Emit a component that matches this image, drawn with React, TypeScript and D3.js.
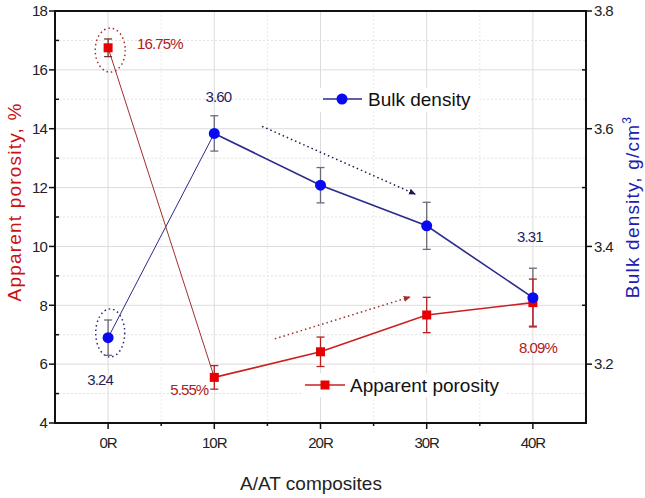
import React from "react";
import * as d3 from "d3";

const categories = ["0R", "10R", "20R", "30R", "40R"];
const porosity = [16.75, 5.55, 6.42, 7.67, 8.09];
const porosityErr = [0.3, 0.4, 0.5, 0.6, 0.8];
const density = [3.245, 3.592, 3.504, 3.435, 3.313];
const densityErr = [0.03, 0.03, 0.03, 0.04, 0.05];
const porosityLabels = ["16.75%", "5.55%", "", "", "8.09%"];
const densityLabels = ["3.24", "3.60", "", "", "3.31"];
const leftTicks = [4, 6, 8, 10, 12, 14, 16, 18];
const leftMinor = [5, 7, 9, 11, 13, 15, 17];
const rightTicks = [3.2, 3.4, 3.6, 3.8];
const rightMinor = [3.3, 3.5, 3.7];

const W = 645, H = 498;
const M = { left: 55, right: 586, top: 11, bottom: 423 };
const FONT = "'Liberation Sans', Arial, sans-serif";
const RED = "#cc1f1f";
const DARKRED = "#a0302c";
const NAVY = "#2b2b8c";
const BLUE = "#0a0af0";

export default function App() {
  const x = d3.scaleLinear().domain([-0.5, 4.5]).range([M.left, M.right]);
  const yL = d3.scaleLinear().domain([4, 18]).range([M.bottom, M.top]);
  const yR = d3.scaleLinear().domain([3.1, 3.8]).range([M.bottom, M.top]);
  const xMinor = [0.5, 1.5, 2.5, 3.5];

  const line = d3.line<[number, number]>().x((d) => d[0]).y((d) => d[1]);
  const pPts: [number, number][] = porosity.map((v, i) => [x(i), yL(v)]);
  const dPts: [number, number][] = density.map((v, i) => [x(i), yR(v)]);

  // annotations in data units
  const blueArrow = { x1: 1.45, y1: 3.604, x2: 2.89, y2: 3.489 };
  const redArrow = { x1: 1.57, y1: 6.86, x2: 2.84, y2: 8.28 };

  return (
    <svg width={W} height={H} style={{ position: "absolute", left: 0, top: 0, background: "#fff" }} fontFamily={FONT}>
      <defs>
        <marker id="ahB" markerWidth="8" markerHeight="8" refX="6" refY="4" orient="auto" markerUnits="userSpaceOnUse">
          <path d="M0,1 L7,4 L0,7 Z" fill="#1a1a50" />
        </marker>
        <marker id="ahR" markerWidth="8" markerHeight="8" refX="6" refY="4" orient="auto" markerUnits="userSpaceOnUse">
          <path d="M0,1 L7,4 L0,7 Z" fill="#a0302c" />
        </marker>
      </defs>
      <rect width={W} height={H} fill="#fff" />
      {/* grid */}
      {leftMinor.map((t) => (
        <line key={"hm" + t} x1={M.left} x2={M.right} y1={yL(t)} y2={yL(t)} stroke="#e2e2e2" strokeDasharray="2,2" />
      ))}
      {leftTicks.map((t) => (
        <line key={"hg" + t} x1={M.left} x2={M.right} y1={yL(t)} y2={yL(t)} stroke="#dcdcdc" />
      ))}
      {xMinor.map((t) => (
        <line key={"vm" + t} x1={x(t)} x2={x(t)} y1={M.top} y2={M.bottom} stroke="#e8e8e8" strokeDasharray="2,2" />
      ))}
      {categories.map((c, i) => (
        <line key={"vg" + c} x1={x(i)} x2={x(i)} y1={M.top} y2={M.bottom} stroke="#dcdcdc" />
      ))}

      {/* frame */}
      <rect x={M.left} y={M.top} width={M.right - M.left} height={M.bottom - M.top} fill="none" stroke="#111" strokeWidth={2} />

      {/* left ticks */}
      {leftTicks.map((t) => (
        <g key={"lt" + t}>
          <line x1={M.left - 6} x2={M.left} y1={yL(t)} y2={yL(t)} stroke="#111" strokeWidth={1.5} />
          <text x={M.left - 8} y={yL(t)} dy="0.35em" textAnchor="end" fontSize={15} letterSpacing={-0.8} fill="#222">{t}</text>
        </g>
      ))}
      {leftMinor.map((t) => (
        <line key={"lm" + t} x1={M.left} x2={M.left + 4} y1={yL(t)} y2={yL(t)} stroke="#111" strokeWidth={1.5} />
      ))}
      {/* right ticks */}
      {rightTicks.map((t) => (
        <g key={"rt" + t}>
          <line x1={M.right} x2={M.right + 6} y1={yR(t)} y2={yR(t)} stroke="#111" strokeWidth={1.5} />
          <text x={M.right + 8} y={yR(t)} dy="0.35em" textAnchor="start" fontSize={15} letterSpacing={-0.6} fill="#222">{t.toFixed(1)}</text>
        </g>
      ))}
      {rightMinor.map((t) => (
        <line key={"rm" + t} x1={M.right - 4} x2={M.right} y1={yR(t)} y2={yR(t)} stroke="#111" strokeWidth={1.5} />
      ))}
      {/* x ticks */}
      {categories.map((c, i) => (
        <g key={"xt" + c}>
          <line x1={x(i)} x2={x(i)} y1={M.bottom} y2={M.bottom + 6} stroke="#111" strokeWidth={1.5} />
          <text x={x(i)} y={M.bottom + 20} dy="0.35em" textAnchor="middle" fontSize={15} letterSpacing={-1} fill="#222">{c}</text>
        </g>
      ))}
      {xMinor.map((t) => (
        <line key={"xm" + t} x1={x(t)} x2={x(t)} y1={M.bottom} y2={M.bottom + 3} stroke="#111" strokeWidth={1.5} />
      ))}

      {/* axis titles */}
      <text x={311} y={483} dy="0.35em" textAnchor="middle" fontSize={19} fill="#222">A/AT composites</text>
      <text transform={`translate(14, 202) rotate(-90)`} textAnchor="middle" dy="0.35em" fontSize={19} letterSpacing={1.2} fill="#cc1111">Apparent porosity, %</text>
      <text transform={`translate(632, 207) rotate(-90)`} textAnchor="middle" dy="0.35em" fontSize={19} letterSpacing={1.2} fill="#2020b0">
        Bulk density, g/cm<tspan dy="-8" fontSize={12}>3</tspan>
      </text>

      {/* annotations: ellipses */}
      <ellipse cx={x(0.02)} cy={yL(16.67)} rx={15} ry={22} fill="none" stroke="#a0302c" strokeWidth={1.5} strokeDasharray="1.5,3" />
      <ellipse cx={x(0.02)} cy={yL(7.06)} rx={14.5} ry={24} fill="none" stroke="#2b2b8c" strokeWidth={1.5} strokeDasharray="1.5,3" />

      {/* arrows */}
      <line x1={x(blueArrow.x1)} y1={yR(blueArrow.y1)} x2={x(blueArrow.x2)} y2={yR(blueArrow.y2)} stroke="#1a1a50" strokeWidth={1.5} strokeDasharray="1.5,3" markerEnd="url(#ahB)" />
      <line x1={x(redArrow.x1)} y1={yL(redArrow.y1)} x2={x(redArrow.x2)} y2={yL(redArrow.y2)} stroke="#a0302c" strokeWidth={1.5} strokeDasharray="1.5,3" markerEnd="url(#ahR)" />

      {/* density series */}
      <path d={line(dPts.slice(0, 2)) || ""} fill="none" stroke={NAVY} strokeWidth={1} />
      <path d={line(dPts.slice(1)) || ""} fill="none" stroke={NAVY} strokeWidth={1.6} />
      {density.map((v, i) => (
        <g key={"de" + i} stroke="#6a6a7a" strokeWidth={1.3}>
          <line x1={x(i)} x2={x(i)} y1={yR(v - densityErr[i])} y2={yR(v + densityErr[i])} />
          <line x1={x(i) - 4} x2={x(i) + 4} y1={yR(v + densityErr[i])} y2={yR(v + densityErr[i])} />
          <line x1={x(i) - 4} x2={x(i) + 4} y1={yR(v - densityErr[i])} y2={yR(v - densityErr[i])} />
        </g>
      ))}

      {/* porosity series */}
      <path d={line(pPts.slice(0, 2)) || ""} fill="none" stroke={DARKRED} strokeWidth={1} />
      <path d={line(pPts.slice(1)) || ""} fill="none" stroke={RED} strokeWidth={1.6} />
      {porosity.map((v, i) => (
        <g key={"pe" + i} stroke={i === 0 ? "#7a3030" : "#b82020"} strokeWidth={1.3}>
          <line x1={x(i)} x2={x(i)} y1={yL(v - porosityErr[i])} y2={yL(v + porosityErr[i])} />
          <line x1={x(i) - 4} x2={x(i) + 4} y1={yL(v + porosityErr[i])} y2={yL(v + porosityErr[i])} />
          <line x1={x(i) - 4} x2={x(i) + 4} y1={yL(v - porosityErr[i])} y2={yL(v - porosityErr[i])} />
        </g>
      ))}
      {porosity.map((v, i) => (
        <rect key={"pm" + i} x={x(i) - 4.5} y={yL(v) - 4.5} width={9} height={9} fill="#e80000" />
      ))}
      {density.map((v, i) => (
        <circle key={"dm" + i} cx={x(i)} cy={yR(v)} r={5.5} fill={BLUE} />
      ))}

      {/* value labels */}
      <text x={x(0) + 29} y={yL(porosity[0]) - 4} dy="0.35em" fontSize={15} letterSpacing={-0.9} fill="#b02020">{porosityLabels[0]}</text>
      <text x={x(1) - 6} y={yL(porosity[1]) + 12} dy="0.35em" textAnchor="end" fontSize={15} letterSpacing={-0.9} fill="#b02020">{porosityLabels[1]}</text>
      <text x={x(4) + 5} y={yL(porosity[4]) + 45} dy="0.35em" textAnchor="middle" fontSize={15} letterSpacing={-0.9} fill="#b02020">{porosityLabels[4]}</text>
      <text x={x(0) - 8} y={yR(density[0]) + 42} dy="0.35em" textAnchor="middle" fontSize={15} letterSpacing={-0.9} fill="#1f1f5f">{densityLabels[0]}</text>
      <text x={x(1) + 4} y={yR(density[1]) - 37} dy="0.35em" textAnchor="middle" fontSize={15} letterSpacing={-0.9} fill="#1f1f5f">{densityLabels[1]}</text>
      <text x={x(4) - 3} y={yR(density[4]) - 61} dy="0.35em" textAnchor="middle" fontSize={15} letterSpacing={-0.9} fill="#1f1f5f">{densityLabels[4]}</text>

      {/* legends */}
      <g>
        <rect x={320} y={88} width={160} height={24} fill="#fff" />
        <line x1={323} x2={362} y1={99} y2={99} stroke={NAVY} strokeWidth={1.6} />
        <circle cx={342} cy={99} r={5.5} fill={BLUE} />
        <text x={368} y={99} dy="0.35em" fontSize={19} fill="#111">Bulk density</text>
      </g>
      <g>
        <rect x={302} y={373} width={205} height={24} fill="#fff" />
        <line x1={305} x2={345} y1={385} y2={385} stroke={RED} strokeWidth={1.6} />
        <rect x={320.5} y={380.5} width={9} height={9} fill="#e80000" />
        <text x={350} y={385} dy="0.35em" fontSize={19} fill="#111">Apparent porosity</text>
      </g>
    </svg>
  );
}
